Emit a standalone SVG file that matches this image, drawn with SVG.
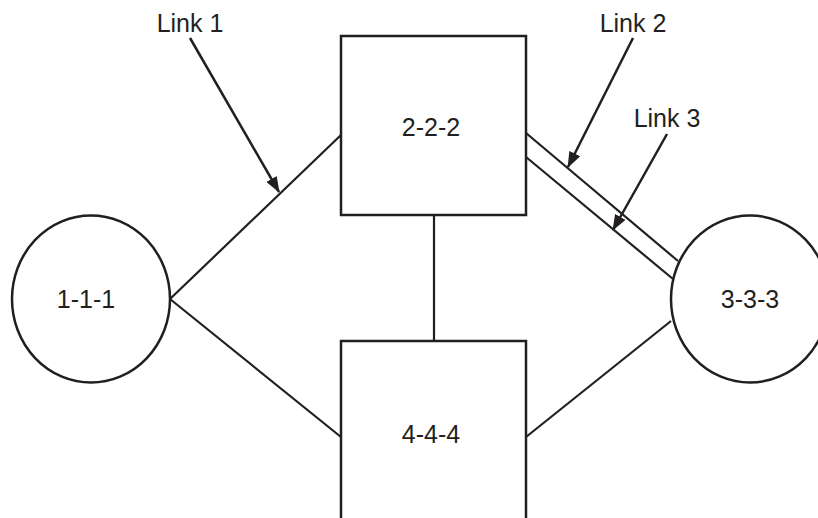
<svg xmlns="http://www.w3.org/2000/svg" width="818" height="518" viewBox="0 0 818 518">
<style>
.shape{fill:#fff;stroke:#231f20;stroke-width:2.5}
.conn{fill:none;stroke:#231f20;stroke-width:2.2}
.ptr{fill:none;stroke:#231f20;stroke-width:2.5}
text{font-family:"Liberation Sans",Arial,sans-serif;font-size:25px;fill:#231f20;text-anchor:middle}
</style>
<defs>
<marker id="ah" markerUnits="userSpaceOnUse" markerWidth="16" markerHeight="12" refX="15" refY="6" orient="auto" viewBox="0 0 16 12">
<path d="M0,0 L16,6 L0,12 Z" fill="#231f20"/>
</marker>
</defs>
<rect width="818" height="518" fill="#fff"/>
<g id="connectors">
<line class="conn" x1="170" y1="299" x2="341" y2="135"/>
<line class="conn" x1="170" y1="299" x2="341" y2="437"/>
<line class="conn" x1="434" y1="215" x2="434" y2="341"/>
<line class="conn" x1="526" y1="437" x2="671" y2="321"/>
<line class="conn" x1="526" y1="133" x2="678" y2="261"/>
<line class="conn" x1="526" y1="157" x2="673" y2="279"/>
</g>
<g id="node-1-1-1">
<ellipse class="shape" cx="91" cy="299" rx="79" ry="83.5"/>
<text x="86" y="308">1-1-1</text>
</g>
<g id="node-3-3-3">
<ellipse class="shape" cx="750" cy="299" rx="79" ry="83.5"/>
<text x="750" y="308">3-3-3</text>
</g>
<g id="node-2-2-2">
<rect class="shape" x="341" y="36" width="185" height="179"/>
<text x="431" y="136">2-2-2</text>
</g>
<g id="node-4-4-4">
<rect class="shape" x="341" y="341" width="185" height="200"/>
<text x="431" y="443">4-4-4</text>
</g>
<g id="labels">
<text x="190" y="32">Link 1</text>
<line class="ptr" x1="190" y1="38" x2="279" y2="192" marker-end="url(#ah)"/>
<text x="633" y="32">Link 2</text>
<line class="ptr" x1="633" y1="38" x2="568" y2="167" marker-end="url(#ah)"/>
<text x="667" y="127">Link 3</text>
<line class="ptr" x1="667" y1="134" x2="613" y2="230" marker-end="url(#ah)"/>
</g>
</svg>
